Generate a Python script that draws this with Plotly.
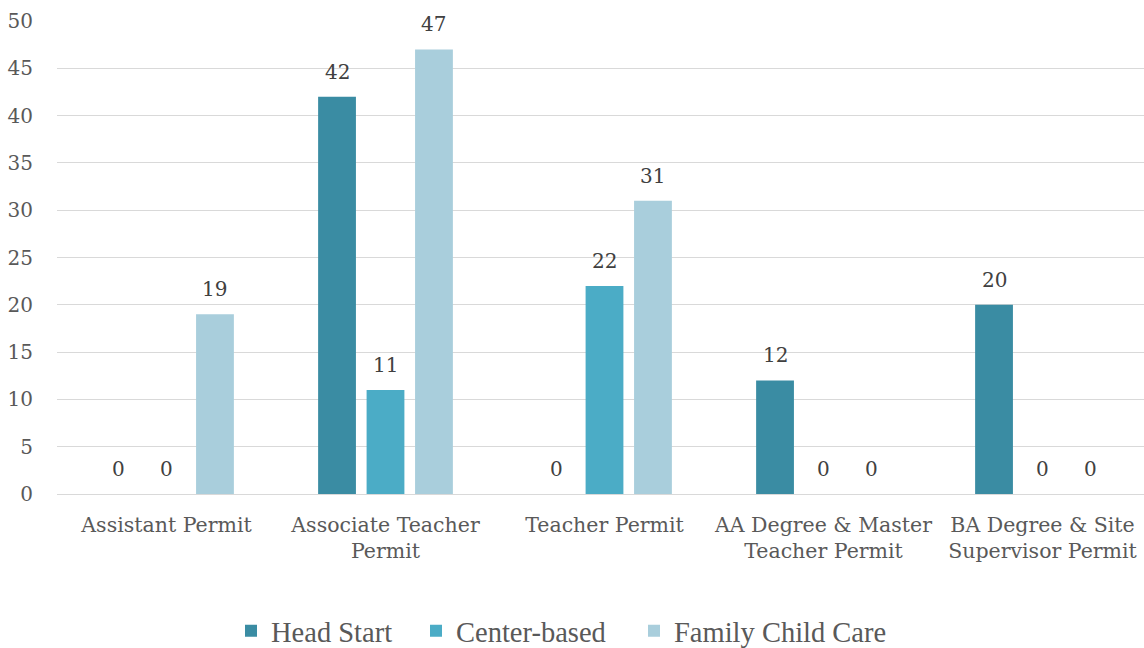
import plotly.graph_objects as go

categories = ["Assistant Permit", "Associate Teacher<br>Permit", "Teacher Permit",
              "AA Degree & Master<br>Teacher Permit", "BA Degree & Site<br>Supervisor Permit"]
series_names = ["Head Start", "Center-based", "Family Child Care"]
head_start = [0, 42, 0, 12, 20]
center_based = [0, 11, 22, 0, 0]
family_child_care = [19, 47, 31, 0, 0]
colors = ["#3A8CA3", "#4BACC6", "#A9CEDC"]
y_ticks = [0, 5, 10, 15, 20, 25, 30, 35, 40, 45, 50]

FONT = "DejaVu Serif, serif"
LEG_FONT = "Liberation Serif, serif"
W, H = 1144, 648
ML, MR, MT, MB = 57, 0, 21, 154
CAT_PX = 219.0
plot_w = W - ML - MR
x_max = -0.5 + plot_w / CAT_PX
BARGAP = 0.336
slot = CAT_PX * (1 - BARGAP) / 3
legend_left_px = [231, 416, 634]

fig = go.Figure()
all_series = [head_start, center_based, family_child_care]
legend_ids = ["legend", "legend2", "legend3"]
for name, vals, col, lid in zip(series_names, all_series, colors, legend_ids):
    fig.add_trace(go.Bar(name=name, x=categories, y=vals, legend=lid,
                         marker=dict(color=col, line=dict(width=0))))

for j, vals in enumerate(all_series):
    for c, v in zip(categories, vals):
        fig.add_annotation(x=c, y=v, text=str(v), showarrow=False, yanchor="bottom",
                           xshift=(j - 1) * slot, yshift=11,
                           font=dict(family=FONT, size=20, color="#404040"))

leg_common = dict(orientation="h", y=-0.29, yanchor="middle", xanchor="left",
                  font=dict(family=LEG_FONT, size=28.5, color="#595959"), bgcolor="rgba(0,0,0,0)")
legends = {}
for lid, lx in zip(legend_ids, legend_left_px):
    legends[lid] = dict(x=(lx - ML) / plot_w, **leg_common)

fig.update_layout(
    width=W, height=H,
    margin=dict(l=ML, r=MR, t=MT, b=MB, autoexpand=False),
    barmode="group", bargap=BARGAP, bargroupgap=0.22,
    plot_bgcolor="white", paper_bgcolor="white",
    font=dict(family=FONT, size=20, color="#595959"),
    showlegend=True,
    **legends,
)
fig.update_yaxes(range=[0, 50], tickvals=y_ticks, showgrid=True, gridcolor="#D9D9D9", gridwidth=1.3,
                 zeroline=False, showline=False, ticks="", ticklabelstandoff=23,
                 tickfont=dict(family=FONT, size=20, color="#595959"))
fig.update_xaxes(range=[-0.5, x_max], showline=True, linecolor="#D9D9D9", linewidth=1.3, ticks="",
                 tickfont=dict(family=FONT, size=20.5, color="#595959"), ticklabelstandoff=12)

fig.write_html("out.html", config={"displayModeBar": False},
               post_script="document.body.style.margin='0';document.body.style.overflow='hidden';")
